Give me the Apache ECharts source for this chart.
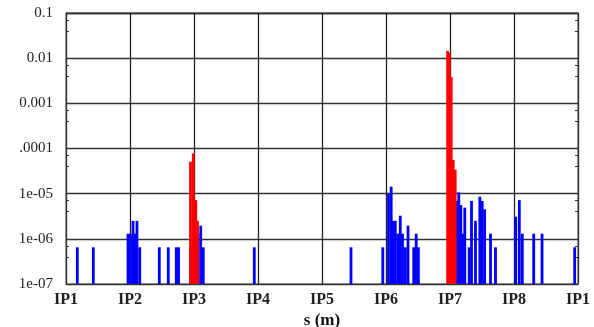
<!DOCTYPE html>
<html>
<head>
<meta charset="utf-8">
<script src="https://cdn.jsdelivr.net/npm/echarts@6/dist/echarts.min.js"></script>
<style>
html,body{margin:0;padding:0;background:#fff;}
#chart{width:594px;height:327px;}
</style>
</head>
<body>
<div id="chart"></div>
<script>
// x positions in units of octants (IP1 = 0, IP2 = 1, ... IP1 again = 8)
const xTickLabels = ['IP1','IP2','IP3','IP4','IP5','IP6','IP7','IP8','IP1'];
const yTickLabels = ['1e-07','1e-06','1e-05','.0001','0.001','0.01','0.1'];

const blueS = [0.177, 0.427,
  0.969, 1.008, 1.047, 1.078, 1.109, 1.152,
  1.458, 1.598, 1.723, 1.758, 1.948,
  2.063, 2.105, 2.145,
  2.942, 4.453,
  4.950, 5.039, 5.081, 5.114, 5.145, 5.184, 5.223, 5.258, 5.302, 5.344, 5.433, 5.472, 5.506,
  6.103, 6.137, 6.169, 6.198, 6.231, 6.300, 6.336, 6.398, 6.466, 6.503, 6.541, 6.633, 6.711,
  7.027, 7.083, 7.130, 7.308, 7.438, 7.948];
const blueV = [6.5e-7, 6.5e-7,
  1.3e-6, 1.3e-6, 2.5e-6, 1.3e-6, 2.5e-6, 6.5e-7,
  6.5e-7, 6.5e-7, 6.5e-7, 6.5e-7, 6.5e-7,
  1.3e-6, 1.95e-6, 6.5e-7,
  6.5e-7, 6.5e-7,
  6.5e-7, 1.0e-5, 1.43e-5, 2.5e-6, 2.5e-6, 1.3e-6, 3.25e-6, 1.3e-6, 6.5e-7, 1.95e-6, 6.5e-7, 1.3e-6, 6.5e-7,
  6.9e-6, 1.07e-5, 5.6e-6, 1.3e-6, 4.9e-6, 6.5e-7, 6.9e-6, 2.5e-6, 8.6e-6, 6.9e-6, 4.5e-6, 1.3e-6, 6.5e-7,
  3.1e-6, 7.2e-6, 1.3e-6, 1.3e-6, 1.3e-6, 6.5e-7];

const redS = [1.945, 1.989, 2.028, 2.055,
  5.963, 5.989, 6.019, 6.050, 6.081];
const redV = [5.1e-5, 7.8e-5, 7.2e-6, 2.5e-6,
  1.45e-2, 1.3e-2, 3.8e-3, 5.6e-5, 3.4e-5];

const blueData = blueS.map((s, i) => [s, blueV[i]]);
const redData = redS.map((s, i) => [s, redV[i]]);

const serif = '"Liberation Serif", "DejaVu Serif", serif';

const chart = echarts.init(document.getElementById('chart'), null, {renderer: 'canvas'});
const yCommon = {
  type: 'log',
  logBase: 10,
  min: 1e-7,
  max: 0.1,
  interval: 1,
  startValue: 1e-7
};
chart.setOption({
  animation: false,
  backgroundColor: '#fff',
  grid: {left: 66, right: 16, top: 13, bottom: 43, containLabel: false, outerBoundsMode: 'none',
         show: true, borderColor: '#444', borderWidth: 1, backgroundColor: 'transparent'},
  xAxis: {
    type: 'value',
    min: 0,
    max: 8,
    interval: 1,
    name: 's (m)',
    nameLocation: 'middle',
    nameGap: 28,
    nameMoveOverlap: false,
    nameTextStyle: {fontFamily: serif, fontSize: 17, fontWeight: 'bold', color: '#111'},
    axisLine: {show: true, lineStyle: {color: '#333', width: 1}},
    axisTick: {show: false},
    axisLabel: {
      formatter: v => xTickLabels[Math.round(v)],
      fontFamily: serif, fontSize: 16, fontWeight: 'bold', color: '#222', margin: 8
    },
    splitLine: {show: true, lineStyle: {color: '#222', width: 1.3}}
  },
  yAxis: [
    Object.assign({}, yCommon, {
      position: 'left',
      axisLine: {show: true, lineStyle: {color: '#333', width: 1}},
      axisTick: {show: true, inside: true, length: 5, lineStyle: {color: '#333'}},
      minorTick: {show: true, splitNumber: 3, length: 3, lineStyle: {color: '#333'}},
      axisLabel: {
        formatter: v => yTickLabels[Math.round(Math.log10(v)) + 7],
        fontFamily: serif, fontSize: 15, color: '#222', margin: 13
      },
      splitLine: {show: true, lineStyle: {color: '#333', width: 1.3}},
      minorSplitLine: {show: false}
    }),
    Object.assign({}, yCommon, {
      position: 'right',
      axisLine: {show: true, lineStyle: {color: '#333', width: 1}},
      axisTick: {show: true, inside: true, length: 5, lineStyle: {color: '#333'}},
      minorTick: {show: true, splitNumber: 3, length: 3, lineStyle: {color: '#333'}},
      axisLabel: {show: false},
      splitLine: {show: false}
    })
  ],
  series: [
    {
      type: 'bar',
      yAxisIndex: 0,
      data: blueData,
      barWidth: 2.8,
      barGap: '-100%',
      itemStyle: {color: '#0000ff'},
      clip: true,
      z: 3
    },
    {
      type: 'bar',
      yAxisIndex: 0,
      data: redData,
      barWidth: 2.8,
      barGap: '-100%',
      itemStyle: {color: '#ff0000'},
      clip: true,
      z: 4
    }
  ]
});
</script>
</body>
</html>
